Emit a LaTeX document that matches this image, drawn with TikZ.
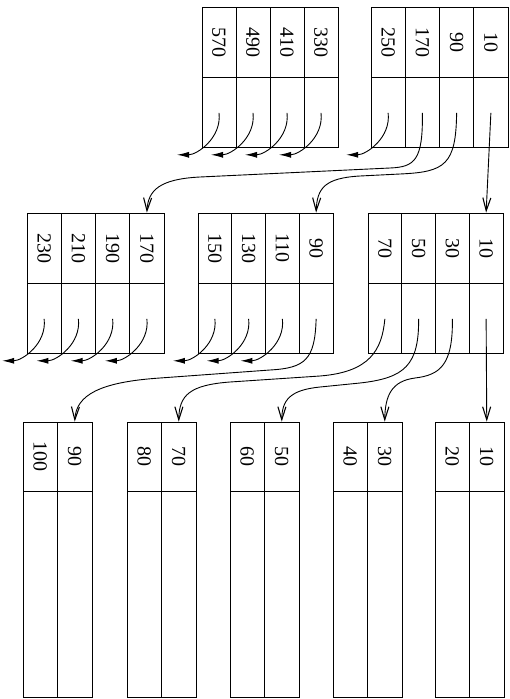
\documentclass[tikz,border=0pt]{standalone}
\usepackage{fontspec}
\setmainfont{Liberation Serif}
\usetikzlibrary{arrows.meta,calc}
\tikzset{
  keycell/.style={draw,line width=0.8pt,inner sep=0pt,minimum height=70pt,
    font=\fontsize{20}{24}\selectfont},
  ptrcell/.style={draw,line width=0.8pt,inner sep=0pt,minimum height=70pt},
  datacell/.style={draw,line width=0.8pt,inner sep=0pt,minimum width=34.5pt,minimum height=206pt},
  treeptr/.style={line width=0.9pt,-{Straight Barb[length=13pt,width=8pt,line width=1.1pt]}},
  nullptr/.style={line width=0.9pt,-{Latex[length=12pt,width=6pt]}}
}
\newcommand\inode[8]{%
  \foreach \i/\k in {1/#5,2/#6,3/#7,4/#8}{%
    \node[keycell,minimum width=#4pt] (#1k\i) at ({#2+(4.5-\i)*#4},{#3+35}) {\rotatebox{-90}{\k}};
    \node[ptrcell,minimum width=#4pt,anchor=north] (#1p\i) at (#1k\i.south) {};
  }}
\newcommand\leafnode[4]{%
  \foreach \i/\k in {1/#3,2/#4}{%
    \node[keycell,minimum width=34.5pt,minimum height=69pt] (#1k\i) at ({#2+(2.5-\i)*34.5},456.5) {\rotatebox{-90}{\k}};
    \node[datacell,anchor=north] (#1d\i) at (#1k\i.south) {};
  }}
\newcommand\nullarrow[1]{%
  \coordinate (#1n) at ($(#1.center)+(-42,42)$);
  \draw[nullptr] (#1.center) .. controls +(3,25) and +(20,0) .. (#1n);}
\begin{document}
\begin{tikzpicture}[x=1pt,y=-1pt]
\useasboundingbox (0,0) rectangle (509,699);
% root level
\inode{A}{371}{7}{34.25}{10}{90}{170}{250}
\inode{B}{202}{7}{34}{330}{410}{490}{570}
% second level
\inode{C}{368}{213}{33.75}{10}{30}{50}{70}
\inode{D}{198}{213}{33.75}{90}{110}{130}{150}
\inode{E}{27}{213}{34.25}{170}{190}{210}{230}
% leaves
\leafnode{La}{23}{90}{100}
\leafnode{Lb}{127}{70}{80}
\leafnode{Lc}{230}{50}{60}
\leafnode{Ld}{333}{30}{40}
\leafnode{Le}{435}{10}{20}
% null pointers
\nullarrow{Ap4}
\nullarrow{Bp1}\nullarrow{Bp2}\nullarrow{Bp3}\nullarrow{Bp4}
\nullarrow{Dp2}\nullarrow{Dp3}\nullarrow{Dp4}
\nullarrow{Ep1}\nullarrow{Ep2}\nullarrow{Ep3}\nullarrow{Ep4}
% tree pointers
\draw[treeptr] (Ap1.center) -- (Ck1.north);
\draw[treeptr] (Ap2.center) .. controls (456,165) and (445,172) .. (400,174)
  -- (360,176) .. controls (325,178) and (317,188) .. (Dk1.north);
\draw[treeptr] (Ap3.center) .. controls (423,160) and (415,167) .. (390,168)
  -- (200,177) .. controls (160,179) and (148,190) .. (Ek1.north);
\draw[treeptr] (Cp1.center) -- (Lek1.north);
\draw[treeptr] (Cp2.center) .. controls (453,365) and (440,375) .. (415,378)
  .. controls (392,381) and (385,395) .. (Ldk1.north);
\draw[treeptr] (Cp3.center) .. controls (419,365) and (405,378) .. (360,383)
  -- (320,387) .. controls (290,390) and (282,400) .. (Lck1.north);
\draw[treeptr] (Cp4.center) .. controls (382,350) and (370,372) .. (320,376)
  -- (230,382) .. controls (190,385) and (179,395) .. (Lbk1.north);
\draw[treeptr] (Dp1.center) .. controls (315,360) and (305,368) .. (270,370)
  -- (160,378) .. controls (100,382) and (76,395) .. (Lak1.north);
\end{tikzpicture}
\end{document}
